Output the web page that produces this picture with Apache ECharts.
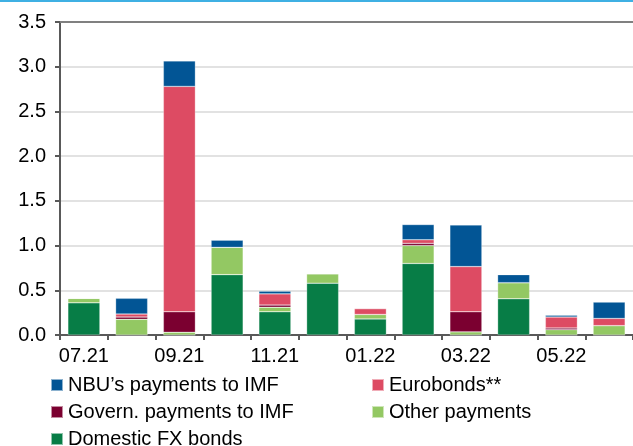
<!DOCTYPE html>
<html>
<head>
<meta charset="utf-8">
<script src="https://cdn.jsdelivr.net/npm/echarts@6/dist/echarts.min.js"></script>
<style>
  html, body { margin: 0; padding: 0; background: #fff; }
  #chart { width: 633px; height: 446px; }
</style>
</head>
<body>
<div id="chart"></div>
<script>
// months
var months = ['07.21', '08.21', '09.21', '10.21', '11.21', '12.21', '01.22', '02.22', '03.22', '04.22', '05.22', '06.22'];
// stacked from bottom to top
var domesticFx = [0.36, 0, 0, 0.675, 0.26, 0.58, 0.18, 0.80, 0, 0.405, 0, 0];
var otherPay   = [0.05, 0.175, 0.03, 0.305, 0.05, 0.105, 0.05, 0.20, 0.035, 0.18, 0.06, 0.105];
var govImf     = [0, 0.025, 0.23, 0, 0.025, 0, 0, 0.025, 0.225, 0, 0.018, 0];
var eurobonds  = [0, 0.035, 2.52, 0, 0.125, 0, 0.065, 0.04, 0.505, 0, 0.122, 0.08];
var nbuImf     = [0, 0.175, 0.285, 0.08, 0.03, 0, 0, 0.17, 0.465, 0.09, 0.02, 0.183];

var FONT = '"Liberation Sans", Arial, sans-serif';

var myChart = echarts.init(document.getElementById('chart'));

function bar(name, data, color) {
    return {
        name: name,
        type: 'bar',
        stack: 'total',
        barCategoryGap: '33%',
        data: data,
        itemStyle: {
            color: color,
            borderColor: 'rgba(255,255,255,0.55)',
            borderWidth: 0.5
        }
    };
}

// one legend per item so the rows stay where they are
function legendItem(name, left, top) {
    return {
        left: left,
        top: top,
        padding: 0,
        itemWidth: 12,
        itemHeight: 12,
        icon: 'rect',
        textStyle: { fontSize: 20, color: '#000', fontFamily: FONT },
        data: [name]
    };
}

var option = {
    animation: false,
    textStyle: { fontFamily: FONT },
    //顶部蓝线
    graphic: [{
        type: 'rect',
        shape: { x: 0, y: 0, width: 633, height: 2 },
        style: { fill: '#3fb0e3' }
    }],
    grid: { left: 60, right: 0, top: 22, bottom: 111 },
    legend: [
        legendItem('NBU\u2019s payments to IMF', 50, 375),
        legendItem('Eurobonds**', 371, 375),
        legendItem('Govern. payments to IMF', 50, 402),
        legendItem('Other payments', 371, 402),
        legendItem('Domestic FX bonds', 50, 429)
    ],
    xAxis: [{
        type: 'category',
        data: months,
        axisLine: { lineStyle: { color: '#595959', width: 2 } },
        axisTick: { show: true, interval: 0, length: 5, lineStyle: { color: '#595959', width: 2 } },
        axisLabel: { interval: 1, fontSize: 20, color: '#000', margin: 11, fontFamily: FONT }
    }, {
        // 上边框
        type: 'category',
        position: 'top',
        data: months,
        axisLine: { lineStyle: { color: '#808080', width: 2 } },
        axisTick: { show: false },
        axisLabel: { show: false }
    }],
    yAxis: {
        type: 'value',
        min: 0,
        max: 3.5,
        interval: 0.5,
        axisLine: { show: true, lineStyle: { color: '#595959', width: 2 } },
        axisTick: { show: true, length: 5, lineStyle: { color: '#595959', width: 2 } },
        axisLabel: {
            fontSize: 20, color: '#000', margin: 14, fontFamily: FONT,
            formatter: function (v) { return v.toFixed(1); }
        },
        splitLine: { lineStyle: { color: '#d9d9d9', width: 1.5 } }
    },
    series: [
        bar('Domestic FX bonds', domesticFx, '#077d46'),
        bar('Other payments', otherPay, '#93c863'),
        bar('Govern. payments to IMF', govImf, '#7b0030'),
        bar('Eurobonds**', eurobonds, '#dd4b63'),
        bar('NBU\u2019s payments to IMF', nbuImf, '#025595')
    ]
};

myChart.setOption(option);
</script>
</body>
</html>
